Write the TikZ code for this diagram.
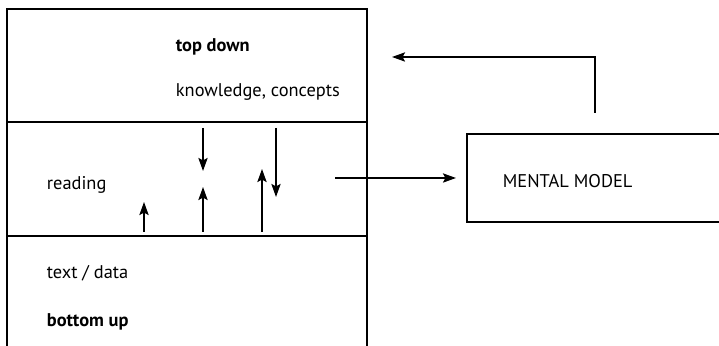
\documentclass[tikz,border=0pt]{standalone}
\usepackage{fontspec}
\setmainfont{PT Sans}
\usetikzlibrary{arrows.meta}
\tikzset{
  lbl/.style={anchor=base west,inner sep=0pt,font=\fontsize{9.2}{11}\selectfont},
  flow/.style={-{Stealth[length=6.5pt,width=4.6pt,inset=1.2pt]},line width=0.9pt},
}
\begin{document}
\begin{tikzpicture}[x=0.5pt,y=-0.5pt,line width=0.9pt]
        \useasboundingbox (0,0) rectangle (719,346);
        % the three levels
        \draw (7,346) -- (7,9) -- (367,9) -- (367,346);
        \draw (7,122) -- (367,122);
        \draw (7,236) -- (367,236);
        % mental model box, open to the right
        \draw (719,134) -- (467,134) -- (467,222) -- (719,222);
        \node[lbl,font=\fontsize{9.2}{11}\selectfont\bfseries] (top) at (175,52) {top down};
        \node[lbl] (know) at (175,97) {knowledge, concepts};
        \node[lbl] (read) at (46,190) {reading};
        \node[lbl] (data) at (46,279) {text / data};
        \node[lbl,font=\fontsize{9.2}{11}\selectfont\bfseries] (bottom) at (46,327) {bottom up};
        \node[lbl] (mm) at (502,188) {MENTAL MODEL};
        % arrow ends
        \coordinate (d1s) at (203,128);
        \coordinate (d1e) at (203,171);
        \coordinate (d2s) at (276,128);
        \coordinate (d2e) at (276,197);
        \coordinate (u1s) at (144,232);
        \coordinate (u1e) at (144,202);
        \coordinate (u2s) at (203,232);
        \coordinate (u2e) at (203,187);
        \coordinate (u3s) at (262,232);
        \coordinate (u3e) at (262,169);
        \coordinate (out) at (335,178);
        \coordinate (in) at (456,178);
        \coordinate (fb) at (595,113);
        \coordinate (fbc) at (595,57);
        \coordinate (fbe) at (392,57);
        \draw[flow] (d1s) -- (d1e);
        \draw[flow] (d2s) -- (d2e);
        \draw[flow] (u1s) -- (u1e);
        \draw[flow] (u2s) -- (u2e);
        \draw[flow] (u3s) -- (u3e);
        \draw[flow] (out) -- (in);
        \draw[flow] (fb) -- (fbc) -- (fbe);
      \end{tikzpicture}
\end{document}
